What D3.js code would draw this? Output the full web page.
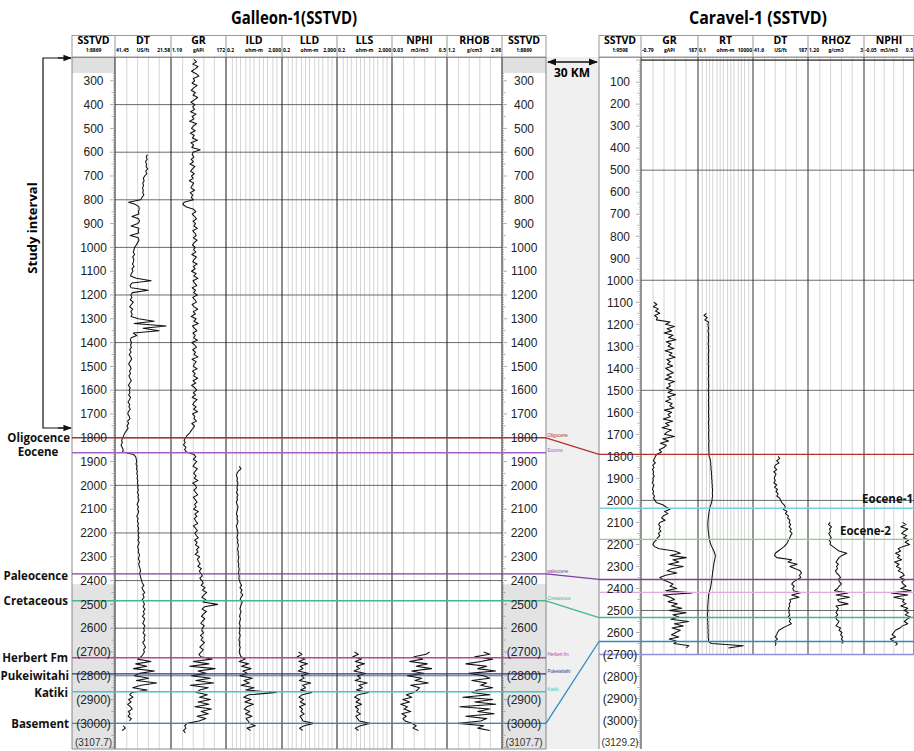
<!DOCTYPE html>
<html><head><meta charset="utf-8">
<script src="https://cdn.jsdelivr.net/npm/d3@7"></script>
<style>
body{margin:0;background:#fff}
svg{display:block}
text{font-family:"Liberation Sans",Arial,sans-serif}
.bold{font-family:"Open Sans","Noto Sans",sans-serif;font-weight:700}
</style>
</head><body>
<svg id="chart" width="914" height="751"></svg>
<script>
// Sample interval of the digitised logs (m)
const STEP = 10;

// ---------- Galleon-1 logs (first sample depth, then values in track units) ----------
const galDTTop = 610;
const galDT = [
 29.9,30.3,30.0,30.6,30.2,30.4,29.8,30.5,30.1,30.9,31.4,31.1,31.6,31.3,31.7,31.4,31.6,31.2,31.9,32.4,
 36.8,34.2,33.0,32.9,33.2,33.0,35.6,33.1,32.8,33.4,35.9,33.0,33.3,33.1,36.2,33.2,33.0,33.5,34.0,34.6,
 34.8,35.1,34.6,35.3,34.9,35.0,35.4,34.8,35.6,35.2,35.8,36.1,34.0,28.5,35.6,36.3,35.9,29.6,35.4,36.0,
 35.6,36.2,35.1,35.8,36.4,35.3,36.0,35.5,35.9,33.2,27.4,34.8,23.0,31.5,25.6,35.1,33.8,35.9,36.2,35.7,
 36.1,35.8,36.4,35.9,36.6,36.0,35.7,36.3,36.8,36.2,35.9,36.5,36.1,36.7,36.3,35.8,36.4,36.9,36.2,36.6,
 36.3,36.8,36.1,36.5,37.0,36.4,36.7,36.2,36.9,37.1,36.6,36.3,37.2,36.8,37.4,37.0,37.6,38.2,38.6,38.9,
 39.4,39.1,39.6,39.2,38.8,39.0,
 35.0,34.2,34.0,33.8,34.1,33.7,33.9,33.6,33.8,33.5,33.7,33.4,33.6,33.3,
 33.5,33.2,33.6,33.1,33.4,33.0,33.3,33.7,33.2,33.5,33.1,33.4,33.8,33.3,33.6,33.2,33.5,33.1,33.4,33.0,
 33.3,33.0,33.4,32.9,33.2,33.5,33.1,33.3,32.8,33.0,33.2,32.7,33.1,32.9,32.6,32.4,32.8,32.5,32.3,32.0,
 31.8,31.2,31.9,31.5,30.9,31.6,31.1,31.8,31.3,31.0,31.5,30.8,31.4,31.0,31.7,30.9,31.2,31.6,30.8,31.3,
 31.0,31.5,30.7,31.2,30.9,31.6,31.1,30.6,31.3,31.0,31.5,32.2,
 33.5,28.6,34.2,30.1,35.0,27.3,32.8,34.6,29.4,33.9,26.5,32.2,35.3,30.0,
 35.6,36.4,35.2,36.8,35.9,37.2,36.1,35.5,36.9,36.3,37.0,35.8,36.5,
 null,38.8,38.0,39.2
];
const galGRTop = 210;
const galGR = [
 72,80,68,85,76,64,79,88,70,74,66,82,71,63,77,69,84,73,62,75,
 68,74,61,79,66,72,58,81,70,64,76,60,73,67,83,62,71,65,92,69,
 66,72,63,70,59,75,67,61,73,64,69,57,71,66,62,74,60,68,63,70,
 40,36,48,71,78,66,74,80,69,77,72,83,68,75,79,70,82,73,67,76,
 71,78,65,80,73,68,82,70,76,64,79,72,85,69,74,81,66,77,71,83,
 68,75,80,66,73,84,70,77,63,79,72,86,67,74,81,69,76,71,83,65,
 74,80,68,77,72,85,66,79,73,70,82,67,76,71,84,69,78,64,75,81,
 70,77,66,82,73,68,79,71,84,67,75,72,80,65,74,69,63,58,50,45,
 40,44,38,46,42,48,
 72,78,70,81,74,69,83,76,71,79,73,85,68,77,
 80,72,78,84,70,76,82,74,79,71,86,75,81,73,78,84,70,77,83,75,
 79,86,74,82,77,88,80,85,76,90,83,87,92,84,96,89,94,99,91,97,
 102,95,108,99,113,104,97,110,101,148,106,98,112,103,96,107,100,94,105,99,
 97,103,93,100,95,106,98,91,102,96,88,94,
 130,70,120,58,140,85,112,64,125,78,135,60,118,90,
 80,115,90,125,85,120,75,128,95,118,82,110,88,
 50,42,46,38,44
];
const galILDTop = 1920;
const galILD = [
 1.6,2.2,1.4,1.1,1.0,1.2,1.1,1.3,1.2,
 1.1,1.2,1.0,1.3,1.1,1.2,1.0,1.1,1.3,1.2,1.1,1.0,1.2,1.1,1.3,1.2,1.0,1.1,1.2,1.3,
 1.2,1.1,1.3,1.2,1.4,1.3,1.2,1.4,1.3,1.5,1.4,1.3,1.5,1.4,1.6,1.5,1.4,1.6,1.5,1.7,
 1.9,2.4,1.8,2.6,2.1,3.0,2.2,1.9,2.7,2.3,2.0,1.8,2.2,1.9,1.7,2.0,1.8,1.6,1.9,1.7,
 1.8,1.6,1.9,1.7,1.5,1.8,1.6,1.9,1.7,1.6,1.8,2.2,
 4.5,1.6,8.0,2.4,12,3.0,6.5,1.8,15,3.6,9.0,2.2,20,5.0,
 900,8,3.5,12,4.2,18,6,3.8,9.5,4.6,14,5.2,7.4,
 9,25,6,11
];
const galLLDTop = 2700;
const galLLD = [
 3.0,5.5,2.4,9.0,3.2,14,4.0,6.5,2.8,18,5.0,8.0,3.4,25,6.0,10,4.2,
 30,5.5,3.2,7.0,4.0,9.5,3.5,6.0,4.5,8.0,3.8,5.2,6.5,
 40,8,3.5,6
];
const galLLSTop = 2700;
const galLLS = [
 3.5,7.0,2.6,12,4.0,20,5.0,8.5,3.2,24,6.0,10,4.0,32,7.5,14,5.0,
 40,6.5,3.6,8.5,4.6,12,4.0,7.0,5.2,10,4.4,6.0,8.0,
 50,10,4.0,7
];
const galNPHITop = 2700;
const galNPHI = [
 0.36,0.33,0.22,0.30,0.18,0.34,0.24,0.38,0.20,0.31,0.16,0.29,0.23,0.35,0.19,0.27,0.25,
 0.22,0.15,0.20,0.12,0.18,0.10,0.16,0.13,0.19,0.11,0.15,0.12,0.14,
 0.20,0.24,0.21,0.26
];
const galRHOBTop = 2700;
const galRHOB = [
 2.4,2.6,2.1,2.7,2.3,1.8,2.5,2.2,2.8,1.9,2.4,2.6,2.0,2.5,2.3,2.7,2.2,
 2.0,2.6,1.7,2.7,2.1,2.8,1.6,2.6,2.2,2.75,1.8,2.5,2.3,
 1.55,2.4,2.2,2.6
];

// ---------- Caravel-1 logs ----------
const carGRTop = 1100;
const carGR = [
 40,50,38,55,45,60,42,52,48,
 95,80,110,85,100,75,105,90,115,82,98,88,108,78,102,92,112,84,96,86,104,80,
 92,106,84,100,78,110,90,96,82,104,88,114,86,98,80,102,94,108,76,100,
 88,96,72,104,80,92,68,100,84,76,110,70,90,62,82,74,58,66,50,45,
 42,38,45,36,40,35,39,37,41,36,38,34,40,37,35,39,36,42,38,44,
 48,70,82,95,76,88,72,66,78,60,56,62,58,64,55,60,52,48,40,36,
 42,58,110,130,95,150,105,125,90,140,100,85,118,80,60,70,88,105,95,118,
 80,170,72,96,110,88,120,100,135,92,150,105,125,98,158,110,140,102,130,115,
 100,125,92,118,108,160,150
];
const carRTTop = 1150;
const carRT = [
 0.5,0.3,0.6,0.35,0.8,0.7,
 0.75,0.8,0.7,0.78,0.82,0.74,0.8,0.77,0.72,0.8,0.76,0.83,0.78,0.74,0.8,0.76,0.79,0.73,0.81,0.77,
 0.8,0.76,0.82,0.78,0.74,0.8,0.77,0.83,0.79,0.75,0.81,0.78,0.84,0.8,0.76,0.82,0.78,0.85,0.8,0.77,
 0.82,0.79,0.85,0.8,0.77,0.83,0.8,0.86,0.81,0.78,0.84,0.8,0.87,0.83,0.8,0.85,0.82,0.88,0.84,0.9,
 1.1,1.2,1.3,1.25,1.4,1.35,1.5,1.45,1.6,1.55,1.7,1.65,1.8,1.75,1.9,1.85,1.8,1.9,1.75,1.7,
 1.5,1.3,1.1,1.0,0.9,0.85,0.8,0.75,0.72,0.7,0.68,0.7,0.72,0.75,0.8,0.85,0.9,1.0,1.1,1.3,
 1.6,2.0,2.5,3.0,3.5,3.3,3.0,2.7,2.5,2.3,2.2,2.0,1.9,1.8,1.7,1.6,1.5,1.4,1.3,1.2,
 1.0,0.9,0.8,0.78,0.75,0.72,0.7,0.68,0.65,0.7,0.66,0.62,0.68,0.64,0.7,0.66,0.72,0.68,0.74,0.7,
 0.76,0.72,0.8,0.78,1.5,1500,60
];
const carDTTop = 1800;
const carDT = [
 108,112,104,110,100,98,104,96,102,99,97,
 100,96,104,98,106,102,108,104,112,115,
 118,124,128,122,132,128,136,134,140,138,
 142,138,144,140,146,142,140,136,134,130,
 124,116,108,100,98,104,145,135,160,140,
 155,168,172,166,170,160,150,145,152,148,
 150,170,145,165,140,142,138,140,136,139,
 137,140,135,142,138,144,132,120,110,106,
 104,100,106,98,102,100
];
const carRHOZTop = 2100;
const carRHOZ = [
 1.9,1.85,1.95,1.88,1.92,1.86,1.9,1.94,1.87,1.92,1.9,
 2.0,2.1,2.2,2.46,2.3,2.2,2.15,2.1,2.18,2.12,
 2.15,2.08,2.12,2.2,2.25,2.18,2.22,2.28,2.2,2.15,
 2.05,2.5,2.1,2.55,2.15,2.2,2.5,2.1,2.18,2.14,
 2.1,2.16,2.08,2.12,2.2,2.15,2.1,2.25,2.2,2.3,
 2.25,2.32,2.28,2.35,2.3
];
const carNPHITop = 2100;
const carNPHI = [
 0.38,0.42,0.36,0.44,0.4,0.37,0.43,0.39,0.45,0.41,0.46,
 0.38,0.33,0.36,0.3,0.35,0.32,0.37,0.29,0.34,0.31,
 0.36,0.33,0.38,0.4,0.35,0.41,0.37,0.39,0.42,0.36,
 0.48,0.25,0.44,0.28,0.4,0.38,0.42,0.36,0.44,0.4,
 0.45,0.41,0.47,0.43,0.4,0.44,0.38,0.35,0.3,0.28,
 0.26,0.3,0.24,0.28,0.32,0.3
];

// ---------- Formation tops (m SSTVD) ----------
const galTopNames  = ["Oligocence","Eocene","Paleocence","Cretaceous","Herbert Fm","Pukeiwitahi","Katiki","Basement"];
const galTopTags   = ["Oligocene","Eocene","paleocene","Cretaceous","Herbert fm","Pukeiwitahi","Katiki",""];
const galTopDepths = [1800,1863,2372,2485,2724,2792,2867,3000];
const galTopColors = ["#b3302f","#a45ec6","#7e3fa2","#3fb98f","#c23ea7","#27348f","#43c7cb","#2f8ac4"];

const carTopNames  = ["","Eocene-1","Eocene-2","","","","",""];
const carTopDepths = [1791,2036,2177,2359,2418,2532,2641,2700];
const carTopColors = ["#b3302f","#74d1dc","#84d384","#7e3fa2","#e2a8e2","#3fb98f","#2f8ac4","#9090e0"];

// Tops carried across between the wells: [Galleon index, Caravel index]
const topLinks = [[0,0],[2,3],[3,5],[7,6]];

// Depth label lists
const galDepthLabels = d3.range(300, 3001, 100);
const carDepthLabels = d3.range(100, 3001, 100);

// ---------- Drawing ----------
const svg = d3.select("#chart");
const gY = d3.scaleLinear().domain([200, 3107.7]).range([57, 749]);
const cY = d3.scaleLinear().domain([-14, 3129.2]).range([57, 749]);

const galEdges = [72,115,171,226,282,337,392,447,502,546];
const carEdges = [599,641,698,753,808,864,914];
const carBase = 2700;

const galTracks = [
  {name:"DT",  lo:"41.45", unit:"US/ft", hi:"21.58", type:"lin", dom:[41.45,21.58], data:galDT,  top:galDTTop},
  {name:"GR",  lo:"1.19",  unit:"gAPI",  hi:"172",   type:"lin", dom:[1.19,172],    data:galGR,  top:galGRTop},
  {name:"ILD", lo:"0.2",   unit:"ohm-m", hi:"2,000", type:"log", dom:[0.2,2000],    data:galILD, top:galILDTop},
  {name:"LLD", lo:"0.2",   unit:"ohm-m", hi:"2,000", type:"log", dom:[0.2,2000],    data:galLLD, top:galLLDTop},
  {name:"LLS", lo:"0.2",   unit:"ohm-m", hi:"2,000", type:"log", dom:[0.2,2000],    data:galLLS, top:galLLSTop},
  {name:"NPHI",lo:"0.03",  unit:"m3/m3", hi:"0.5",   type:"lin", dom:[0.03,0.51],   data:galNPHI,top:galNPHITop},
  {name:"RHOB",lo:"1.2",   unit:"g/cm3", hi:"2.98",  type:"lin", dom:[1.2,2.98],    data:galRHOB,top:galRHOBTop}
];
const carTracks = [
  {name:"GR",  lo:"-0.79", unit:"gAPI",  hi:"187",   type:"lin", dom:[-0.79,187],  data:carGR,  top:carGRTop},
  {name:"RT",  lo:"0.1",   unit:"ohm-m", hi:"10000", type:"log", dom:[0.1,10000],  data:carRT,  top:carRTTop},
  {name:"DT",  lo:"41.6",  unit:"US/ft", hi:"187",   type:"lin", dom:[41.6,187],   data:carDT,  top:carDTTop},
  {name:"RHOZ",lo:"1.20",  unit:"g/cm3", hi:"3",     type:"lin", dom:[1.2,3],      data:carRHOZ,top:carRHOZTop},
  {name:"NPHI",lo:"-0.05", unit:"m3/m3", hi:"0.5",   type:"lin", dom:[-0.05,0.5],  data:carNPHI,top:carNPHITop}
];

const defs = svg.append("defs");
const gBack = svg.append("g"), gGrid = svg.append("g"), gCurve = svg.append("g"),
      gFrame = svg.append("g"), gTops = svg.append("g"), gText = svg.append("g");

// Connecting corridor between the wells
gBack.append("rect").attr("x",546).attr("y",57).attr("width",53).attr("height",692).attr("fill","#f0f0f0");

// Galleon depth-track shading (no-log intervals)
[[galEdges[0],galEdges[1]],[galEdges[8],galEdges[9]]].forEach(([a,b])=>{
  gBack.append("rect").attr("x",a).attr("y",gY(200)).attr("width",b-a).attr("height",gY(267)-gY(200)).attr("fill","#e0e0e0");
  gBack.append("rect").attr("x",a).attr("y",gY(2415)).attr("width",b-a).attr("height",gY(3107.7)-gY(2415)).attr("fill","#e3e3e3");
});

function trackScale(t, x0, x1){
  const r=[x0+1,x1-1];
  return (t.type==="log"?d3.scaleLog():d3.scaleLinear()).domain(t.dom).range(r).clamp(true);
}

function gridLines(t, xs, y0, y1){
  let vals;
  if(t.type==="log"){
    vals=[];
    const [a,b]=t.dom;
    for(let e=Math.floor(Math.log10(a)); e<=Math.ceil(Math.log10(b)); e++)
      [1,2,5].forEach(m=>{ const v=m*Math.pow(10,e); if(v>a*1.001 && v<b*0.999) vals.push(v); });
  } else {
    const [a,b]=t.dom; vals=d3.range(1,5).map(i=>a+(b-a)*i/5);
  }
  vals.forEach(v=>{
    const x=xs(v);
    gGrid.append("line").attr("x1",x).attr("x2",x).attr("y1",y0).attr("y2",y1)
      .attr("stroke","#c9c9c9").attr("stroke-width",0.8);
  });
}

function drawWell(tracks, edges, yS, firstData, lastData, clipPrefix, majors){
  tracks.forEach((t,i)=>{
    const x0=edges[i+1], x1=edges[i+2];
    const xs=trackScale(t,x0,x1);
    const y0=yS(firstData), y1=yS(lastData);
    gridLines(t,xs,y0,y1);
    defs.append("clipPath").attr("id",clipPrefix+i).append("rect")
      .attr("x",x0).attr("y",y0).attr("width",x1-x0).attr("height",y1-y0);
    const pts=t.data.map((v,k)=>[t.top+k*STEP, v]);
    gCurve.append("path").datum(pts).attr("clip-path",`url(#${clipPrefix+i})`)
      .attr("d",d3.line().defined(d=>d[1]!=null).x(d=>xs(d[1])).y(d=>yS(d[0])))
      .attr("fill","none").attr("stroke","#111").attr("stroke-width",1.05).attr("stroke-linejoin","round");
  });
  // major depth lines
  majors.forEach(d=>{
    gGrid.append("line").attr("x1",edges[1]).attr("x2",edges[tracks.length+1])
      .attr("y1",yS(d)).attr("y2",yS(d)).attr("stroke","#5a5a5a").attr("stroke-width",0.9);
  });
}

drawWell(galTracks, galEdges, gY, 200, 3107.7, "gclip", d3.range(400,3001,200));
drawWell(carTracks, carEdges, cY, -14, carBase, "cclip", d3.range(0,2501,500));

// Track borders
galEdges.forEach(x=>{
  gFrame.append("line").attr("x1",x).attr("x2",x).attr("y1",57).attr("y2",749)
    .attr("stroke",(x===72||x===546)?"#888":"#1a1a1a").attr("stroke-width",1);
});
gFrame.append("line").attr("x1",72).attr("x2",546).attr("y1",749).attr("y2",749).attr("stroke","#888");
gFrame.append("line").attr("x1",72).attr("x2",546).attr("y1",57).attr("y2",57).attr("stroke","#1a1a1a");
carEdges.forEach((x,i)=>{
  const yEnd = i<=1 ? 749 : cY(carBase);
  gFrame.append("line").attr("x1",x).attr("x2",x).attr("y1",57).attr("y2",yEnd)
    .attr("stroke",i===0?"#888":"#333").attr("stroke-width",1);
});
gFrame.append("line").attr("x1",599).attr("x2",914).attr("y1",57).attr("y2",57).attr("stroke","#333");
gFrame.append("line").attr("x1",641).attr("x2",914).attr("y1",cY(0)).attr("y2",cY(0)).attr("stroke","#333");

// Depth-track tick marks
function depthTicks(yS, from, to, x, dir){
  d3.range(Math.ceil(from/10)*10, to, 10).forEach(d=>{
    const len = d%100===0?5:(d%50===0?3.5:2);
    gFrame.append("line").attr("x1",x).attr("x2",x+dir*len).attr("y1",yS(d)).attr("y2",yS(d))
      .attr("stroke","#777").attr("stroke-width",0.6);
  });
}
depthTicks(gY,270,3107,115,-1);
depthTicks(gY,270,3107,502,1);
depthTicks(cY,0,3129,641,-1);

// Depth labels
function depthLabel(v){ return v>=2700 ? `(${v})` : `${v}`; }
[[93.5,gY],[524,gY]].forEach(([cx,yS])=>{
  galDepthLabels.forEach(d=>{
    gText.append("text").attr("x",cx).attr("y",yS(d)+4.3).attr("text-anchor","middle")
      .attr("font-size",12).attr("fill","#222").text(depthLabel(d));
  });
  gText.append("text").attr("x",cx).attr("y",746).attr("text-anchor","middle")
    .attr("font-size",10).attr("fill","#333").text("(3107.7)");
});
carDepthLabels.forEach(d=>{
  gText.append("text").attr("x",620).attr("y",cY(d)+4.3).attr("text-anchor","middle")
    .attr("font-size",12).attr("fill","#222").text(depthLabel(d));
});
gText.append("text").attr("x",620).attr("y",746).attr("text-anchor","middle")
  .attr("font-size",10).attr("fill","#333").text("(3129.2)");

// Formation tops
galTopDepths.forEach((d,i)=>{
  gTops.append("line").attr("x1",72).attr("x2",546).attr("y1",gY(d)).attr("y2",gY(d))
    .attr("stroke",galTopColors[i]).attr("stroke-width",1.4);
  if(galTopTags[i]) gTops.append("text").attr("x",547.5).attr("y",gY(d)-1.2).attr("text-anchor","start")
    .attr("font-size",4.5).attr("fill",galTopColors[i]).text(galTopTags[i]);
});
carTopDepths.forEach((d,i)=>{
  gTops.append("line").attr("x1",599).attr("x2",914).attr("y1",cY(d)).attr("y2",cY(d))
    .attr("stroke",carTopColors[i]).attr("stroke-width",1.4);
});
topLinks.forEach(([a,b])=>{
  gTops.append("line").attr("x1",546).attr("x2",599)
    .attr("y1",gY(galTopDepths[a])).attr("y2",cY(carTopDepths[b]))
    .attr("stroke",galTopColors[a]).attr("stroke-width",1.3);
});

// Formation names
const leftLabelPos = [[70,442,"end"],[38,456,"middle"],[68,580,"end"],[68,605,"end"],[68,662,"end"],[69,680,"end"],[68,697,"end"],[69,728,"end"]];
galTopNames.forEach((n,i)=>{
  const [x,y,a]=leftLabelPos[i];
  gText.append("text").attr("class","bold").attr("x",x).attr("y",y).attr("text-anchor",a)
    .attr("font-size",11.5).attr("fill","#111").text(n);
});
gText.append("text").attr("class","bold").attr("x",913).attr("y",cY(carTopDepths[1])-5).attr("text-anchor","end")
  .attr("font-size",11.5).attr("fill","#111").text(carTopNames[1]);
gText.append("text").attr("class","bold").attr("x",840).attr("y",cY(carTopDepths[2])-4).attr("text-anchor","start")
  .attr("font-size",11.5).attr("fill","#111").text(carTopNames[2]);

// Headers
function header(x0, x1, edges, depthTitles, tracks){
  const hg = gText.append("g");
  hg.append("rect").attr("x",x0).attr("y",35.5).attr("width",x1-x0).attr("height",21.5)
    .attr("fill","#fff").attr("stroke","#999");
  edges.forEach(x=>hg.append("line").attr("x1",x).attr("x2",x).attr("y1",35.5).attr("y2",57).attr("stroke","#999"));
  depthTitles.forEach(([a,b,scale])=>{
    const cx=(a+b)/2;
    hg.append("text").attr("class","bold").attr("x",cx).attr("y",43.5).attr("text-anchor","middle").attr("font-size",10.5).text("SSTVD");
    hg.append("text").attr("class","bold").attr("x",cx).attr("y",52.3).attr("text-anchor","middle").attr("font-size",5).text(scale);
  });
  tracks.forEach((t,i)=>{
    const a=t.x0, b=t.x1, cx=(a+b)/2;
    hg.append("text").attr("class","bold").attr("x",cx).attr("y",43.5).attr("text-anchor","middle").attr("font-size",10.5).text(t.name);
    hg.append("text").attr("class","bold").attr("x",a+1).attr("y",52.3).attr("font-size",5).text(t.lo);
    hg.append("text").attr("class","bold").attr("x",cx).attr("y",52.3).attr("text-anchor","middle").attr("font-size",5).text(t.unit);
    hg.append("text").attr("class","bold").attr("x",b-1).attr("y",52.3).attr("text-anchor","end").attr("font-size",5).text(t.hi);
  });
}
header(72,546,galEdges.slice(1,-1),[[72,115,"1:8869"],[502,546,"1:8869"]],
  galTracks.map((t,i)=>Object.assign({},t,{x0:galEdges[i+1],x1:galEdges[i+2]})));
header(599,914,carEdges.slice(1,-1),[[599,641,"1:9598"]],
  carTracks.map((t,i)=>Object.assign({},t,{x0:carEdges[i+1],x1:carEdges[i+2]})));

// Titles
gText.append("text").attr("class","bold").attr("x",294).attr("y",24).attr("text-anchor","middle")
  .attr("font-size",18).attr("textLength",126).attr("lengthAdjust","spacingAndGlyphs").text("Galleon-1(SSTVD)");
gText.append("text").attr("class","bold").attr("x",758).attr("y",24).attr("text-anchor","middle")
  .attr("font-size",18).attr("textLength",138).attr("lengthAdjust","spacingAndGlyphs").text("Caravel-1 (SSTVD)");

// Arrow markers
const mk = defs.append("marker").attr("id","arr").attr("viewBox","0 0 10 10").attr("refX",9).attr("refY",5)
  .attr("markerWidth",7).attr("markerHeight",7).attr("orient","auto-start-reverse");
mk.append("path").attr("d","M0,1L10,5L0,9z").attr("fill","#111");

// 30 KM distance
gText.append("line").attr("x1",548).attr("x2",597).attr("y1",62).attr("y2",62)
  .attr("stroke","#111").attr("stroke-width",1.3).attr("marker-start","url(#arr)").attr("marker-end","url(#arr)");
gText.append("text").attr("class","bold").attr("x",572).attr("y",77).attr("text-anchor","middle").attr("font-size",12).text("30 KM");

// Study interval bracket
gText.append("path").attr("d","M70,58H43V428H70").attr("fill","none").attr("stroke","#111").attr("stroke-width",1.2);
gText.append("line").attr("x1",58).attr("x2",71).attr("y1",58).attr("y2",58).attr("stroke","#111").attr("stroke-width",1.2).attr("marker-end","url(#arr)");
gText.append("line").attr("x1",58).attr("x2",71).attr("y1",428).attr("y2",428).attr("stroke","#111").attr("stroke-width",1.2).attr("marker-end","url(#arr)");
gText.append("text").attr("class","bold").attr("transform","translate(37,228) rotate(-90)")
  .attr("text-anchor","middle").attr("font-size",13).text("Study interval");
</script>
</body></html>
